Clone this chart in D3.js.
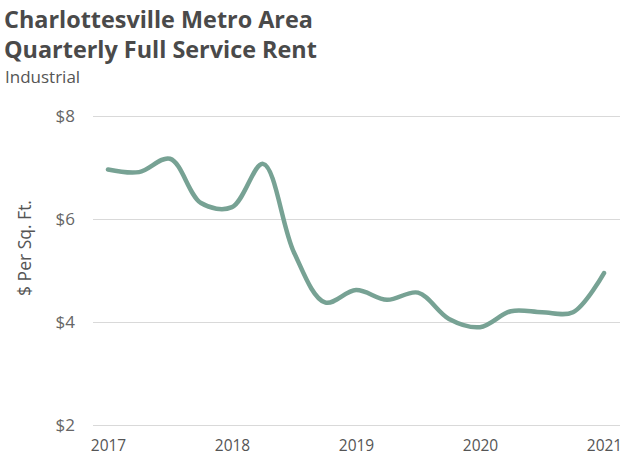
<!DOCTYPE html>
<html><head><meta charset="utf-8">
<script src="https://cdn.jsdelivr.net/npm/d3@7"></script>
<style>body{margin:0;background:#fff;} svg{display:block;}</style>
</head><body>
<svg id="chart" width="636" height="460"></svg>
<script>
const quarters = ["2017 Q1","2017 Q2","2017 Q3","2017 Q4","2018 Q1","2018 Q2","2018 Q3","2018 Q4","2019 Q1","2019 Q2","2019 Q3","2019 Q4","2020 Q1","2020 Q2","2020 Q3","2020 Q4","2021 Q1"];
const rent = [6.96,6.91,7.17,6.31,6.23,7.07,5.35,4.38,4.62,4.43,4.57,4.06,3.90,4.21,4.19,4.19,4.95];
const yTicks = [2,4,6,8];
const xTickLabels = ["2017","2018","2019","2020","2021"];
const titleLines = ["Charlottesville Metro Area","Quarterly Full Service Rent"];
const subtitle = "Industrial";
const yLabel = "$ Per Sq. Ft.";

const svg = d3.select("#chart");
const font = "'Open Sans', 'Noto Sans', sans-serif";
const m = {left:93, right:620, top:116, bottom:425};

const x = d3.scaleLinear().domain([0, quarters.length-1]).range([108, 604]);
const y = d3.scaleLinear().domain([2, 8]).range([m.bottom, m.top]);

svg.selectAll("text.title").data(titleLines).enter().append("text")
  .attr("x", 4).attr("y", (d,i)=>28+i*29.5)
  .attr("font-family", font).attr("font-weight", 700).attr("font-size", 23.4)
  .attr("fill", "#4a4a4a").text(d=>d);
svg.append("text").attr("x", 5).attr("y", 83)
  .attr("font-family", font).attr("font-size", 17).attr("fill", "#555").text(subtitle);

const yAxis = d3.axisLeft(y).tickValues(yTicks).tickSize(-(m.right-m.left)).tickFormat(d=>"$"+d).tickPadding(18);
const gy = svg.append("g").attr("transform", `translate(${m.left},0)`).call(yAxis);
gy.select(".domain").remove();
gy.selectAll(".tick line").attr("stroke", "#d9d9d9").attr("stroke-width", 1);
gy.selectAll(".tick text").attr("font-family", font).attr("font-size", 17).attr("fill", "#666");

const xAxis = d3.axisBottom(x).tickValues([0,4,8,12,16]).tickFormat((d,i)=>xTickLabels[i]).tickSize(0).tickPadding(15);
const gx = svg.append("g").attr("transform", `translate(0,${m.bottom})`).call(xAxis);
gx.select(".domain").remove();
gx.selectAll(".tick text").attr("font-family", font).attr("font-size", 15.5).attr("fill", "#555");

svg.append("text").attr("transform", `translate(31,${248}) rotate(-90)`)
  .attr("text-anchor", "middle").attr("font-family", font).attr("font-size", 17.5).attr("fill", "#555").text(yLabel);

const line = d3.line().x((d,i)=>x(i)).y(d=>y(d)).curve(d3.curveCatmullRom.alpha(0.5));
svg.append("path").datum(rent).attr("d", line)
  .attr("fill", "none").attr("stroke", "#77a294").attr("stroke-width", 4.5)
  .attr("stroke-linecap", "round").attr("stroke-linejoin", "round");
</script>
</body></html>
